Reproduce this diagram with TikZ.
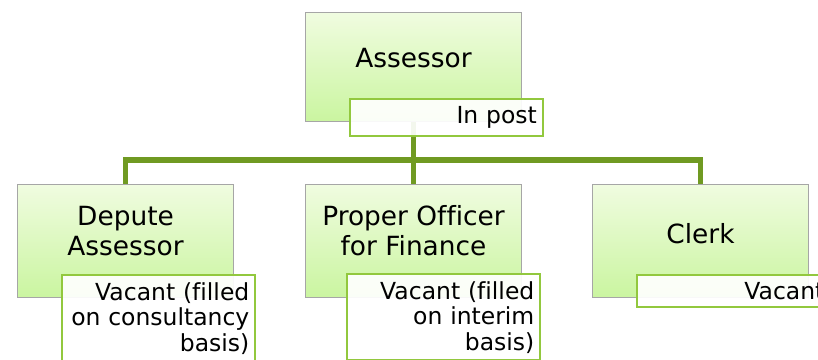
\documentclass[tikz,border=0pt]{standalone}
\usepackage{fontspec}
\setmainfont{DejaVu Sans}[Ligatures=NoCommon]
\usetikzlibrary{positioning}

\definecolor{rolelight}{RGB}{240,252,224}
\definecolor{roledark}{RGB}{202,245,160}
\definecolor{roleframe}{RGB}{166,166,166}
\definecolor{statusframe}{RGB}{146,200,62}
\definecolor{linkgreen}{RGB}{112,154,34}

\tikzset{
  role/.style={rectangle, draw=roleframe, line width=0.8pt, top color=rolelight, bottom color=roledark,
    minimum width=162pt, minimum height=84.75pt, inner sep=0pt, anchor=north west},
  roletext/.style={align=center, inner sep=0pt, font=\fontsize{19.8}{22.5}\selectfont},
  status/.style={rectangle, draw=statusframe, line width=1.5pt, fill=white, fill opacity=0.92, text opacity=1,
    anchor=north west, minimum width=145pt, text width=136pt, align=right, inner xsep=4.5pt, inner ysep=5.5pt,
    font=\fontsize{17.6}{19.2}\selectfont},
  longstatus/.style={status, text depth=40pt},
  link/.style={draw=linkgreen, line width=3.8pt}
}

\begin{document}
\begin{tikzpicture}[x=0.75pt, y=-0.75pt]
\useasboundingbox (0,0) rectangle (818,360);
\clip (0,0) rectangle (818,360);

% boxes
\node[role, minimum height=81.75pt] (assessor) at (305,12) {};
\node[role] (depute) at (17,184) {};
\node[role] (officer) at (305,184) {};
\node[role] (clerk) at (592,184) {};

\node[roletext] (assessorname) at ([yshift=6.45pt]assessor.center) {Assessor};
\node[roletext] (deputename) at ([yshift=7.65pt]depute.center) {Depute\\Assessor};
\node[roletext] (officername) at ([yshift=7.8pt]officer.center) {Proper Officer\\for Finance};
\node[roletext] (clerkname) at ([yshift=5.85pt]clerk.center) {Clerk};

% connectors
\coordinate (bus) at (0,160);
\foreach \post in {depute,officer,clerk}
  \draw[link] (assessor.south) -- (assessor.south |- bus) -| (\post.north);

% status
\node[status] (assessorstate) at ([shift={(43.5,-24)}]assessor.south west) {In post};
\node[longstatus] (deputestate) at ([shift={(44,-24)}]depute.south west) {Vacant (filled\\on consultancy\\basis)};
\node[longstatus] (officerstate) at ([shift={(41,-25)}]officer.south west) {Vacant (filled\\on interim\\basis)};
\node[status] (clerkstate) at ([shift={(44,-24.5)}]clerk.south west) {Vacant};
\end{tikzpicture}
\end{document}
